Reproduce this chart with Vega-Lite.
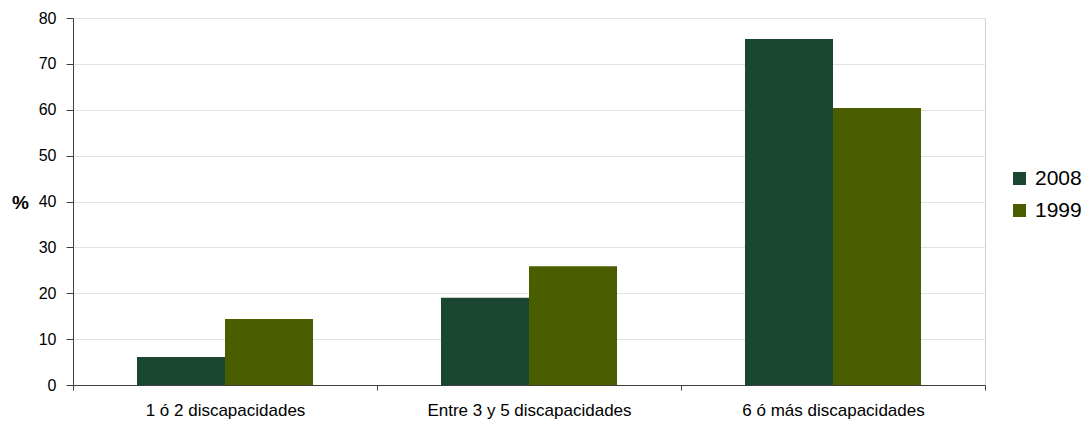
{
  "$schema": "https://vega.github.io/schema/vega-lite/v6.json",
  "width": 912,
  "height": 367,
  "autosize": {"type": "none"},
  "padding": {"left": 73, "top": 18, "right": 99, "bottom": 36},
  "background": "white",
  "config": {
    "font": "Liberation Sans",
    "view": {"stroke": "#d0d0d0", "strokeWidth": 1}
  },
  "data": {
    "values": [
      {"categoria": "1 ó 2 discapacidades", "anio": "2008", "valor": 6.1},
      {"categoria": "1 ó 2 discapacidades", "anio": "1999", "valor": 14.4},
      {"categoria": "Entre 3 y 5 discapacidades", "anio": "2008", "valor": 19.0},
      {"categoria": "Entre 3 y 5 discapacidades", "anio": "1999", "valor": 25.9},
      {"categoria": "6 ó más discapacidades", "anio": "2008", "valor": 75.4},
      {"categoria": "6 ó más discapacidades", "anio": "1999", "valor": 60.4}
    ]
  },
  "mark": {"type": "bar"},
  "encoding": {
    "x": {
      "field": "categoria",
      "type": "nominal",
      "sort": ["1 ó 2 discapacidades", "Entre 3 y 5 discapacidades", "6 ó más discapacidades"],
      "scale": {"paddingInner": 0, "paddingOuter": 0},
      "axis": {
        "title": null,
        "labelAngle": 0,
        "labelFontSize": 17,
        "labelLimit": 0,
        "labelColor": "#000000",
        "labelPadding": 12,
        "tickBand": "extent",
        "tickSize": 5,
        "tickColor": "#404040",
        "domainColor": "#404040",
        "grid": false
      }
    },
    "xOffset": {
      "field": "anio",
      "type": "nominal",
      "sort": ["2008", "1999"],
      "scale": {"paddingInner": 0, "paddingOuter": 0.727}
    },
    "y": {
      "field": "valor",
      "type": "quantitative",
      "scale": {"domain": [0, 80], "nice": false},
      "axis": {
        "values": [0, 10, 20, 30, 40, 50, 60, 70, 80],
        "title": "%",
        "titleAngle": 0,
        "titleFontSize": 19,
        "titleFontWeight": "bold",
        "titleX": -53,
        "titleY": 184,
        "titleAlign": "center",
        "titleBaseline": "middle",
        "labelFontSize": 16,
        "labelColor": "#000000",
        "labelPadding": 10,
        "tickSize": 7,
        "tickColor": "#404040",
        "domainColor": "#404040",
        "gridColor": "#e2e2e2"
      }
    },
    "color": {
      "field": "anio",
      "type": "nominal",
      "scale": {"domain": ["2008", "1999"], "range": ["#1b4732", "#4a5e00"]},
      "legend": {
        "title": null,
        "orient": "none",
        "legendX": 936,
        "legendY": 150,
        "symbolType": "square",
        "symbolSize": 169,
        "symbolStrokeWidth": 0,
        "labelFontSize": 21,
        "labelColor": "#000000",
        "labelOffset": 5,
        "rowPadding": 10
      }
    }
  }
}
